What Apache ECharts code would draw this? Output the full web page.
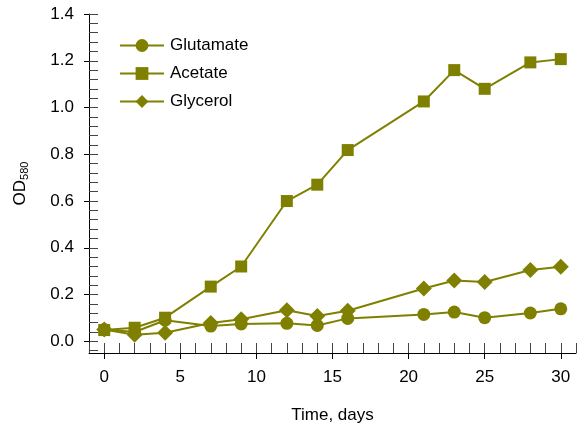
<!DOCTYPE html>
<html>
<head>
<meta charset="utf-8">
<script src="https://cdn.jsdelivr.net/npm/echarts@6/dist/echarts.min.js"></script>
<style>
  html, body { margin: 0; padding: 0; background: #fff; }
  #chart { width: 577px; height: 429px; }
</style>
</head>
<body>
<div id="chart"></div>
<script>
// Sampling days
const days = [0, 2, 4, 7, 9, 12, 14, 16, 21, 23, 25, 28, 30];

// OD580 readings per carbon source
const glutamate = [0.05, 0.04, 0.09, 0.065, 0.074, 0.077, 0.068, 0.098, 0.115, 0.125, 0.101, 0.121, 0.139];
const acetate   = [0.048, 0.058, 0.101, 0.234, 0.320, 0.600, 0.670, 0.818, 1.026, 1.160, 1.080, 1.193, 1.207];
const glycerol  = [0.05, 0.028, 0.037, 0.078, 0.094, 0.133, 0.108, 0.131, 0.226, 0.260, 0.254, 0.305, 0.319];

const seriesNames = ['Glutamate', 'Acetate', 'Glycerol'];

// Tick positions
const xMajorTicks = [0, 5, 10, 15, 20, 25, 30];
const xMinorTicks = [];
for (let d = -1; d <= 31; d++) xMinorTicks.push(d);
const yMajorTicks = [0, 0.2, 0.4, 0.6, 0.8, 1.0, 1.2, 1.4];
const yMinorTicks = [];
for (let i = -1; i <= 35; i++) yMinorTicks.push(+(i * 0.04).toFixed(2));

const olive = '#808000';
const font = 'Liberation Sans, Arial, sans-serif';
const fs = 17;

function pairs(ys) { return days.map((d, i) => [d, ys[i]]); }

const chart = echarts.init(document.getElementById('chart'), null, { renderer: 'canvas' });

const axisLineStyle = { color: '#000', width: 1 };

chart.setOption({
  animation: false,
  backgroundColor: '#fff',
  grid: { left: 89, right: 1, top: 14, bottom: 74, containLabel: false },
  legend: {
    orient: 'vertical',
    left: 114,
    top: 32,
    itemWidth: 44,
    itemHeight: 16,
    itemGap: 11,
    data: seriesNames,
    textStyle: { fontFamily: font, fontSize: fs, color: '#000', padding: [0, 0, 0, 1] }
  },
  xAxis: [
    {
      type: 'value', min: -1, max: 31,
      position: 'bottom',
      splitLine: { show: false },
      axisLine: { show: true, onZero: false, lineStyle: axisLineStyle },
      axisTick: { show: true, inside: false, length: 6, customValues: xMajorTicks, lineStyle: { color: '#000' } },
      axisLabel: { customValues: xMajorTicks, fontFamily: font, fontSize: fs, color: '#000', margin: 16 },
      name: 'Time, days',
      nameLocation: 'middle',
      nameGap: 54,
      nameTextStyle: { fontFamily: font, fontSize: fs, color: '#000' }
    },
    {
      type: 'value', min: -1, max: 31,
      position: 'bottom',
      splitLine: { show: false },
      axisLine: { show: false, onZero: false },
      axisTick: { show: true, inside: true, length: 10, customValues: xMinorTicks, lineStyle: { color: '#444' } },
      axisLabel: { show: false }
    }
  ],
  yAxis: [
    {
      type: 'value', min: -0.05, max: 1.4,
      position: 'left',
      splitLine: { show: false },
      axisLine: { show: true, onZero: false, lineStyle: axisLineStyle },
      axisTick: { show: true, inside: false, length: 5, customValues: yMajorTicks, lineStyle: { color: '#000' } },
      axisLabel: {
        customValues: yMajorTicks, fontFamily: font, fontSize: fs, color: '#000', margin: 15,
        formatter: v => v.toFixed(1)
      },
      name: '{a|OD}{b|580}',
      nameLocation: 'middle',
      nameRotate: 90,
      nameGap: 59,
      nameTextStyle: {
        rich: {
          a: { fontFamily: font, fontSize: fs, color: '#000' },
          b: { fontFamily: font, fontSize: 11, color: '#000', verticalAlign: 'bottom', padding: [9, 0, 0, 0] }
        }
      }
    },
    {
      type: 'value', min: -0.05, max: 1.4,
      position: 'left',
      splitLine: { show: false },
      axisLine: { show: false, onZero: false },
      axisTick: { show: true, inside: true, length: 9, customValues: yMinorTicks, lineStyle: { color: '#444' } },
      axisLabel: { show: false }
    }
  ],
  series: [
    {
      name: 'Glutamate', type: 'line', data: pairs(glutamate),
      symbol: 'circle', symbolSize: 13,
      lineStyle: { color: olive, width: 2 }, itemStyle: { color: olive }
    },
    {
      name: 'Acetate', type: 'line', data: pairs(acetate),
      symbol: 'rect', symbolSize: 12,
      lineStyle: { color: olive, width: 2 }, itemStyle: { color: olive }
    },
    {
      name: 'Glycerol', type: 'line', data: pairs(glycerol),
      symbol: 'diamond', symbolSize: 16,
      lineStyle: { color: olive, width: 2 }, itemStyle: { color: olive }
    }
  ]
});
</script>
</body>
</html>
